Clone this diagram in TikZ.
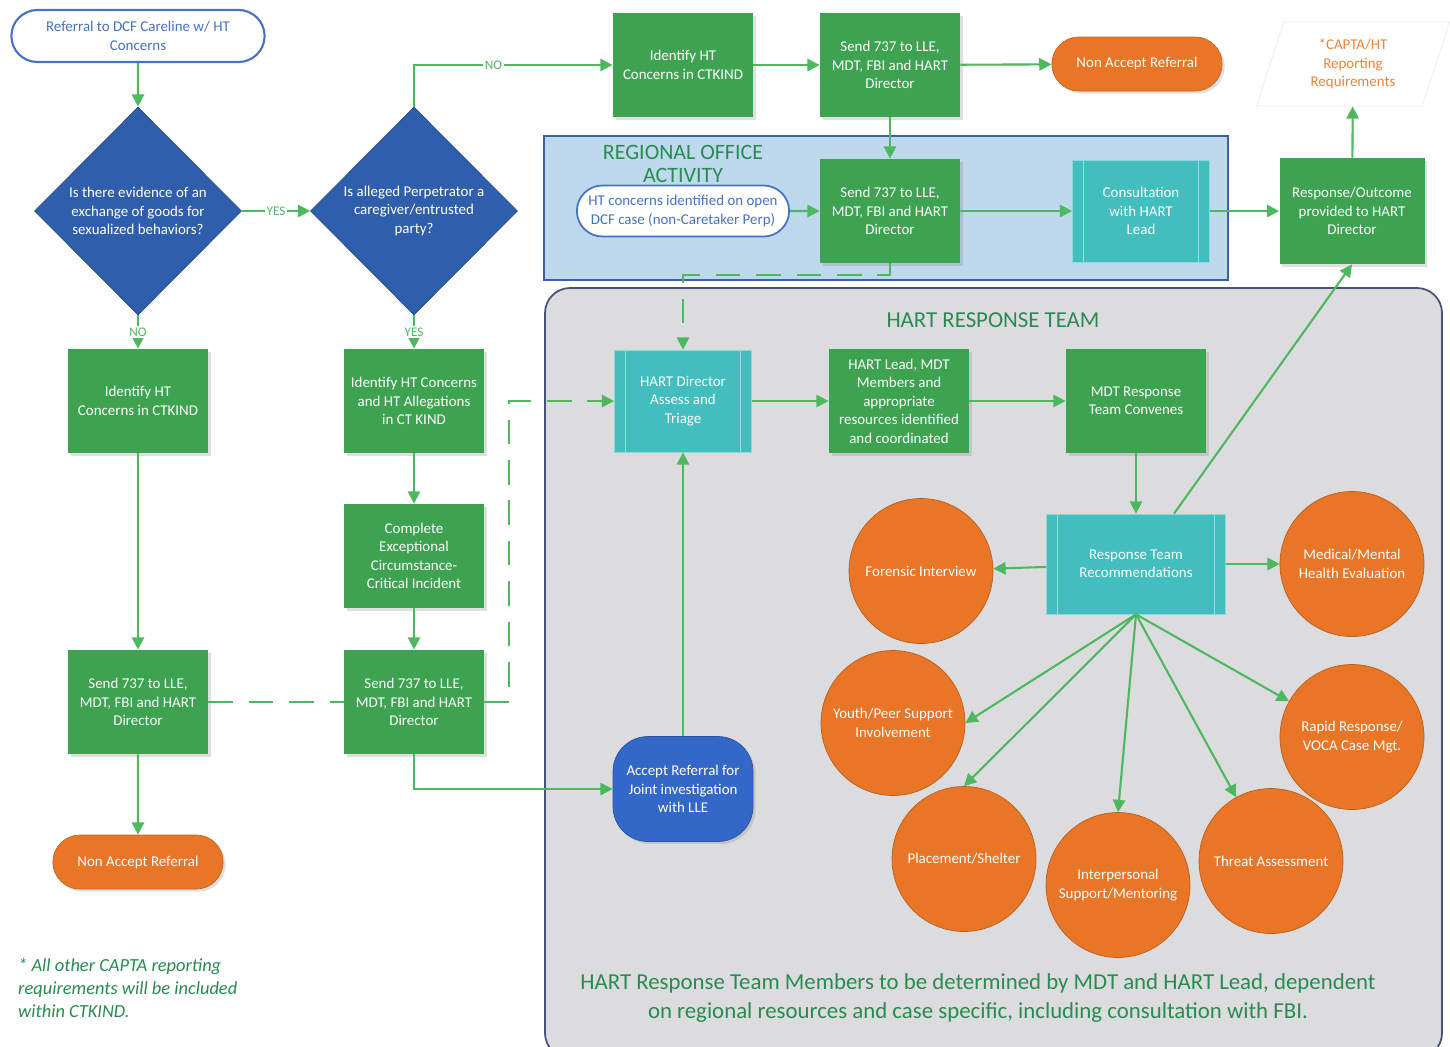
\documentclass[tikz,border=0pt]{standalone}
\usepackage{fontspec}
\setmainfont{Carlito}
\usetikzlibrary{shapes.geometric,shapes.misc,arrows.meta,shadows}

\definecolor{boxgreen}{RGB}{61,163,80}
\definecolor{linegreen}{RGB}{77,184,96}
\definecolor{decblue}{RGB}{46,94,172}
\definecolor{accblue}{RGB}{52,104,200}
\definecolor{tealc}{RGB}{66,190,190}
\definecolor{orangec}{RGB}{232,118,38}
\definecolor{txtgreen}{RGB}{40,140,80}
\definecolor{regblue}{RGB}{190,216,238}
\definecolor{regedge}{RGB}{62,96,168}
\definecolor{hartgray}{RGB}{220,220,222}
\definecolor{hartedge}{RGB}{72,82,120}
\definecolor{startblue}{RGB}{68,114,196}

\tikzset{
  txt/.style={font=\fontsize{8.5}{10.5}\selectfont, align=center},
  arr/.style={draw=linegreen, line width=1.2pt, -{Triangle[length=7pt,width=7pt]}},
  dsh/.style={draw=linegreen, line width=1.2pt, dash pattern=on 14pt off 9pt},
  lbl/.style={fill=white, text=linegreen, inner sep=1pt, font=\fontsize{7.5}{9}\selectfont},
  shd/.style={drop shadow={opacity=0.25, shadow xshift=1.5pt, shadow yshift=-1.5pt}},
  box/.style={txt, rectangle, fill=boxgreen, text=white, minimum width=2.8cm, minimum height=2.08cm, inner sep=2pt, shd},
  proc/.style={txt, rectangle, fill=tealc, draw=tealc!60!white, text=white, minimum width=2.74cm, minimum height=2.04cm,
    path picture={
      \draw[tealc!55!white, line width=0.8pt] ([xshift=0.22cm]path picture bounding box.north west) -- ([xshift=0.22cm]path picture bounding box.south west);
      \draw[tealc!55!white, line width=0.8pt] ([xshift=-0.22cm]path picture bounding box.north east) -- ([xshift=-0.22cm]path picture bounding box.south east);
    }},
  dec/.style={txt, diamond, aspect=1, fill=decblue, draw=decblue!80!black, text=white, minimum width=4.14cm, minimum height=4.16cm, inner sep=0pt},
  term/.style={txt, rounded rectangle, draw=startblue, line width=1.2pt, fill=white, text=startblue},
  stop/.style={txt, rounded rectangle, fill=orangec, draw=orangec!85!black, text=white, minimum width=3.64cm, minimum height=1.08cm, shd},
  svc/.style={txt, ellipse, fill=orangec, draw=orangec!80!black, text=white, minimum width=2.88cm, minimum height=2.9cm, inner xsep=-0.24cm, inner ysep=0pt},
  ttl/.style={text=txtgreen, align=center, font=\fontsize{12.5}{13}\selectfont},
}

\begin{document}
\begin{tikzpicture}[x=0.02cm, y=-0.02cm]
  \useasboundingbox (0,0) rectangle (1450,1046);

  \draw[fill=regblue, draw=regedge, line width=1pt] (544,136) rectangle (1228,280);
  \draw[fill=hartgray, draw=hartedge, line width=1pt, rounded corners=0.5cm] (545,288) rectangle (1442,1058);
  \node[ttl] (regt) at (683,164) {REGIONAL OFFICE\\ACTIVITY};
  \node[ttl, font=\fontsize{13}{13}\selectfont] (hartt) at (993,320) {HART RESPONSE TEAM};

  \node[term, minimum width=5.3cm, minimum height=1.04cm] (ref) at (138,36) {Referral to DCF Careline w/ HT\\Concerns};
  \node[dec] (q1) at (138,211) {Is there evidence of an\\exchange of goods for\\sexualized behaviors?};
  \node[dec] (q2) at (414,211) {Is alleged Perpetrator a\\caregiver/entrusted\\party?};

  \node[box] (n1) at (138,401) {Identify HT\\Concerns in CTKIND};
  \node[box] (n2) at (138,702) {Send 737 to LLE,\\MDT, FBI and HART\\Director};
  \node[stop] (nar2) at (138,862) {Non Accept Referral};
  \node[box] (y1) at (414,401) {Identify HT Concerns\\and HT Allegations\\in CT KIND};
  \node[box] (y2) at (414,556) {Complete\\Exceptional\\Circumstance-\\Critical Incident};
  \node[box] (y3) at (414,702) {Send 737 to LLE,\\MDT, FBI and HART\\Director};

  \node[box] (idc) at (683,65) {Identify HT\\Concerns in CTKIND};
  \node[box] (s1) at (890,65) {Send 737 to LLE,\\MDT, FBI and HART\\Director};
  \node[stop] (nar1) at (1137,64) {Non Accept Referral};
  \node[txt, trapezium, trapezium left angle=72, trapezium right angle=108, draw=gray!15, text=orangec!90!white,
    minimum width=3.4cm, minimum height=1.68cm, inner sep=1pt] (capta) at (1353,64) {*CAPTA/HT\\Reporting\\Requirements};

  \node[term, line width=1pt, minimum width=4.48cm, minimum height=1.02cm] (ht) at (683,211) {HT concerns identified on open\\DCF case (non-Caretaker Perp)};
  \node[box] (s2) at (890,211) {Send 737 to LLE,\\MDT, FBI and HART\\Director};
  \node[proc] (cons) at (1141,211) {Consultation\\with HART\\Lead};
  \node[box, minimum width=2.9cm, minimum height=2.12cm] (resp) at (1352,211) {Response/Outcome\\provided to HART\\Director};

  \node[proc] (hdir) at (683,401) {HART Director\\Assess and\\Triage};
  \node[box] (hlead) at (899,401) {HART Lead, MDT\\Members and\\appropriate\\resources identified\\and coordinated};
  \node[box] (mdt) at (1136,401) {MDT Response\\Team Convenes};
  \node[proc, minimum width=3.58cm, minimum height=2cm] (rtr) at (1136,564) {Response Team\\Recommendations};
  \node[txt, rectangle, rounded corners=0.7cm, fill=accblue, draw=accblue!80!black, text=white,
    minimum width=2.8cm, minimum height=2.1cm, shd] (acc) at (683,789) {Accept Referral for\\Joint investigation\\with LLE};

  \node[svc] (fi) at (921,571) {Forensic Interview};
  \node[svc] (med) at (1352,564) {Medical/Mental\\Health Evaluation};
  \node[svc] (yp) at (893,723) {Youth/Peer Support\\Involvement};
  \node[svc] (rr) at (1352,737) {Rapid Response/\\VOCA Case Mgt.};
  \node[svc] (ps) at (964,859) {Placement/Shelter};
  \node[svc] (ip) at (1118,885) {Interpersonal\\Support/Mentoring};
  \node[svc] (th) at (1271,861) {Threat Assessment};

  \node[text=txtgreen, align=center, font=\fontsize{13}{16}\selectfont] (memb) at (978,998)
    {HART Response Team Members to be determined by MDT and HART Lead, dependent\\on regional resources and case specific, including consultation with FBI.};
  \node[text=txtgreen, align=left, anchor=west, font=\fontsize{10.5}{13}\itshape] (fn) at (12,988)
    {* All other CAPTA reporting\\requirements will be included\\within CTKIND.};

  \draw[arr] (ref) -- (q1);
  \draw[arr] (q1) -- node[lbl] {YES} (q2);
  \draw[arr] (q1) -- node[lbl] {NO} (n1);
  \draw[arr] (q2) -- node[lbl] {YES} (y1);
  \draw[arr] (q2.north) |- node[lbl, pos=0.7] {NO} (idc);
  \draw[arr] (n1) -- (n2);
  \draw[arr] (n2) -- (nar2);
  \draw[arr] (y1) -- (y2);
  \draw[arr] (y2) -- (y3);
  \draw[dsh] (n2) -- (y3);
  \draw[dsh, arr] (y3.east) -- ++(25,0) |- (hdir);
  \draw[arr] (y3.south) |- (acc);
  \draw[arr] (acc) -- (hdir);
  \draw[arr] (idc) -- (s1);
  \draw[arr] (s1) -- (nar1);
  \draw[arr] (s1) -- (s2);
  \draw[arr] (ht) -- (s2);
  \draw[arr] (s2) -- (cons);
  \draw[arr] (cons) -- (resp);
  \draw[arr] (resp) -- (capta);
  \draw[dsh, arr] (s2.south) -- ++(0,12) -| (hdir);
  \draw[arr] (hdir) -- (hlead);
  \draw[arr] (hlead) -- (mdt);
  \draw[arr] (mdt) -- (rtr);
  \draw[arr] ([xshift=0.76cm]rtr.north) -- (resp.south);
  \draw[arr] (rtr) -- (fi);
  \draw[arr] (rtr) -- (med);
  \draw[arr] (rtr.south) -- (yp.east);
  \draw[arr] (rtr.south) -- (ps.north);
  \draw[arr] (rtr.south) -- (ip.north);
  \draw[arr] (rtr.south) -- (th);
  \draw[arr] (rtr.south) -- (rr);
\end{tikzpicture}
\end{document}
